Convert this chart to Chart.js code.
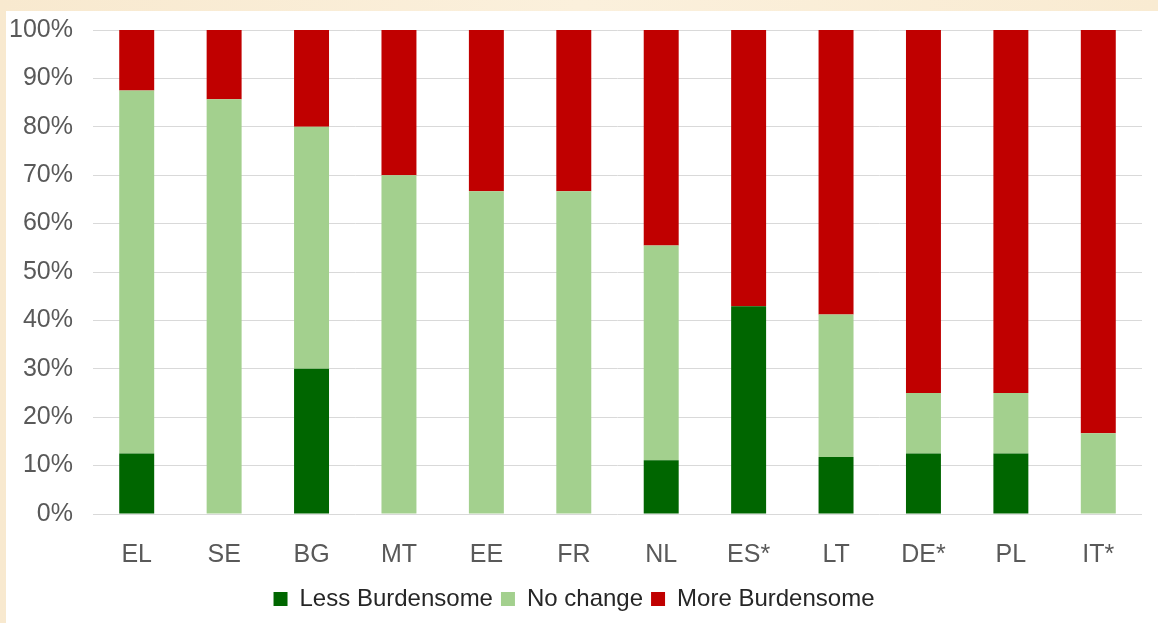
<!DOCTYPE html>
<html>
<head>
<meta charset="utf-8">
<script src="https://cdn.jsdelivr.net/npm/chart.js@4"></script>
<style>
    html, body {
        margin: 0;
        padding: 0;
        width: 1158px;
        height: 623px;
        overflow: hidden;
        background: linear-gradient(90deg, #f8e9cf, #fbf0dc 50%, #f9ebd2);
    }
    #wrap {
        position: absolute;
        left: 6px;
        top: 11px;
        width: 1152px;
        height: 612px;
        background: #fff;
        overflow: hidden;
    }
    #inner {
        position: absolute;
        left: 0;
        top: -16px;
        width: 1152px;
        height: 628px;
    }
</style>
</head>
<body>
<div id="wrap"><div id="inner"><canvas id="burdenChart"></canvas></div></div>
<script>
const countries = ['EL', 'SE', 'BG', 'MT', 'EE', 'FR', 'NL', 'ES*', 'LT', 'DE*', 'PL', 'IT*'];
const lessBurdensome = [12.5, 0, 30, 0, 0, 0, 11.1, 42.9, 11.8, 12.5, 12.5, 0];
const noChange = [75, 85.7, 50, 70, 66.7, 66.7, 44.4, 0, 29.4, 12.5, 12.5, 16.7];
const moreBurdensome = [12.5, 14.3, 20, 30, 33.3, 33.3, 44.5, 57.1, 58.8, 75, 75, 83.3];

const darkGreen = '#006600';
const lightGreen = '#a3d08e';
const red = '#c00000';
const fontFamily = '"Liberation Sans Narrow", "Arial Narrow", "Liberation Sans", sans-serif';

Chart.defaults.font.family = fontFamily;
Chart.defaults.font.size = 25;
Chart.defaults.color = '#595959';

const ctx = document.getElementById('burdenChart').getContext('2d');
new Chart(ctx, {
    type: 'bar',
    data: {
        labels: countries,
        datasets: [
            { label: 'Less Burdensome', data: lessBurdensome, backgroundColor: darkGreen },
            { label: 'No change', data: noChange, backgroundColor: lightGreen },
            { label: 'More Burdensome', data: moreBurdensome, backgroundColor: red },
        ],
    },
    options: {
        responsive: true,
        maintainAspectRatio: false,
        animation: false,
        layout: {
            padding: { top: 2, right: 16, bottom: 2, left: 0 },
        },
        datasets: {
            bar: {
                barPercentage: 0.4,
                categoryPercentage: 1,
                borderWidth: 0,
            },
        },
        plugins: {
            tooltip: { enabled: false },
            legend: {
                position: 'bottom',
                labels: {
                    boxWidth: 14,
                    boxHeight: 14,
                    padding: 8,
                    color: '#262626',
                    font: { size: 24 },
                },
            },
        },
        scales: {
            x: {
                stacked: true,
                grid: { display: false },
                border: { display: false },
                ticks: { padding: 18 },
                afterFit: (scale) => { scale.height = 65; },
            },
            y: {
                stacked: true,
                min: 0,
                max: 100,
                grid: { color: '#d9d9d9', drawTicks: false },
                border: { display: false },
                ticks: {
                    stepSize: 10,
                    padding: 20,
                    callback: (value) => value + '%',
                },
                afterFit: (scale) => { scale.width = 87; },
            },
        },
    },
});
</script>
</body>
</html>
